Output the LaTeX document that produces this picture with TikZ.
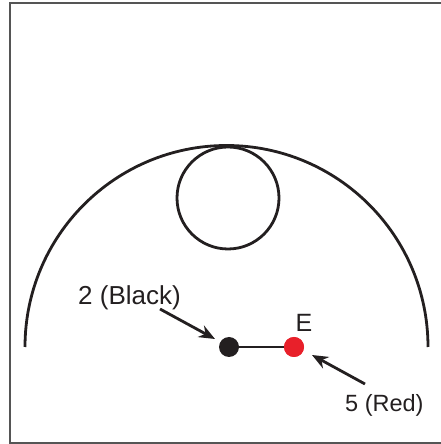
\documentclass[tikz,border=0pt]{standalone}
\usepackage{fontspec}
\setmainfont{Liberation Sans}
\usetikzlibrary{arrows.meta}
\definecolor{dotred}{HTML}{E8202A}
\definecolor{dotblack}{HTML}{231F20}
\definecolor{framegray}{HTML}{555555}
\begin{document}
\begin{tikzpicture}[x=1pt,y=1pt,
  outline/.style={line width=2.8pt,draw=dotblack},
  dotnode/.style={circle,inner sep=0pt,minimum size=20pt},
  lbl/.style={font=\fontsize{26}{30}\selectfont,text=dotblack,inner sep=0pt},
  pointer/.style={line width=2.8pt,draw=dotblack,-{Stealth[length=16pt,width=13pt]}}]
\useasboundingbox (0,0) rectangle (441,444);
% frame
\draw[framegray,line width=1.3pt] (10,1) rectangle (443,441);
% semicircle
\draw[outline] (25,97) arc[start angle=180,end angle=0,radius=201.5];
% small circle
\draw[outline] (228,246) circle[radius=51];
% dots and link
\node[dotnode,fill=dotblack] (blk) at (229,97) {};
\node[dotnode,fill=dotred] (red) at (294,97) {};
\draw[line width=2pt,dotblack] (blk.center) -- (red.center);
\fill[dotred] (red) circle[radius=10];
% labels
\node[lbl,anchor=base,font=\fontsize{25}{29}\selectfont] (E) at (304,112) {E};
\node[lbl,anchor=base west] (lb) at (78,139) {2 (Black)};
\node[lbl,anchor=base west,font=\fontsize{23.5}{28}\selectfont] (lr) at (345,32) {5 (Red)};
% arrows
\coordinate (bt) at (160,135);
\coordinate (bh) at (215,105);
\coordinate (rt) at (365,60);
\coordinate (rh) at (312,89);
\draw[pointer] (bt) -- (bh);
\draw[pointer] (rt) -- (rh);
\end{tikzpicture}
\end{document}
